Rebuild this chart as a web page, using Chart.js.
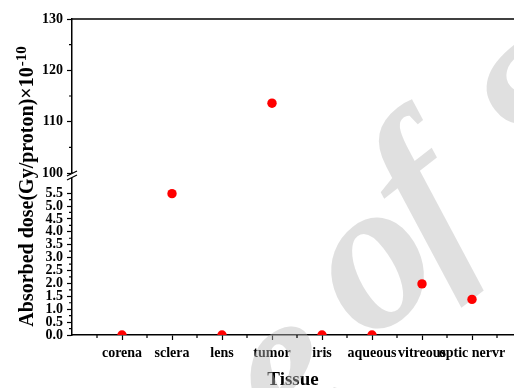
<!DOCTYPE html>
<html>
<head>
<meta charset="utf-8">
<script src="https://cdn.jsdelivr.net/npm/chart.js@4.4.1/dist/chart.umd.min.js"></script>
<style>
    html, body { margin: 0; padding: 0; background: #fff; }
    #wrap { width: 514px; height: 388px; }
</style>
</head>
<body>
<div id="wrap"><canvas id="doseChart"></canvas></div>
<script>
const tissues = ['corena', 'sclera', 'lens', 'tumor', 'iris', 'aqueous', 'vitreous', 'optic nervr'];
const dose = [0, 5.48, 0, 113.6, 0, 0, 1.98, 1.38];
const lowTicks = [0, 0.5, 1, 1.5, 2, 2.5, 3, 3.5, 4, 4.5, 5, 5.5];
const highTicks = [100, 110, 120, 130];
const BREAK = 100;

const serif = '"Liberation Serif", "Times New Roman", serif';
const tickFont = { family: serif, size: 14, weight: 'bold' };

// split the series over the two halves of the broken axis
const lowPoints = dose.map((v, i) => (v < BREAK ? { x: i + 1, y: v } : null)).filter(Boolean);
const highPoints = dose.map((v, i) => (v >= BREAK ? { x: i + 1, y: v } : null)).filter(Boolean);

function midpoints(list) {
    const out = [];
    for (let i = 1; i < list.length; i++) out.push((list[i - 1] + list[i]) / 2);
    return out;
}

const extras = {
    id: 'extras',
    // faint lettering laid over the axes, under the points
    beforeDatasetsDraw(chart) {
        const { ctx } = chart;
        ctx.save();
        ctx.fillStyle = 'rgba(187, 187, 187, 0.45)';
        ctx.font = 'italic bold 215px ' + serif;
        ctx.textAlign = 'center';
        ctx.textBaseline = 'alphabetic';
        [['e', 292, 385, 48], ['o', 380, 273, 48], ['f', 432, 212, 48], ['S', 545, 110, 72]].forEach(([ch, cx, cy, h]) => {
            ctx.save();
            ctx.translate(cx, cy);
            ctx.rotate(-38 * Math.PI / 180);
            ctx.fillText(ch, 0, h);
            ctx.restore();
        });
        ctx.restore();
    },
    afterDraw(chart) {
        const { ctx, chartArea, scales } = chart;
        const xs = scales.x, lo = scales.y, hi = scales.y2;
        const axisX = chartArea.left;
        ctx.save();
        ctx.strokeStyle = '#000';
        ctx.lineWidth = 1.2;

        // minor ticks
        ctx.beginPath();
        midpoints(lowTicks).forEach((v) => {
            const py = lo.getPixelForValue(v);
            ctx.moveTo(axisX, py); ctx.lineTo(axisX - 3, py);
        });
        midpoints(highTicks).forEach((v) => {
            const py = hi.getPixelForValue(v);
            ctx.moveTo(axisX, py); ctx.lineTo(axisX - 3, py);
        });
        for (let v = 0.5; v < xs.max; v += 1) {
            const px = xs.getPixelForValue(v);
            ctx.moveTo(px, chartArea.bottom); ctx.lineTo(px, chartArea.bottom + 3);
        }
        ctx.stroke();

        // top frame line
        ctx.lineWidth = 1.5;
        ctx.beginPath();
        ctx.moveTo(axisX, chartArea.top);
        ctx.lineTo(chartArea.right, chartArea.top);
        ctx.stroke();

        // axis break marks
        const yb = hi.bottom;
        ctx.fillStyle = '#fff';
        ctx.beginPath();
        ctx.moveTo(axisX - 5, yb + 3); ctx.lineTo(axisX + 5, yb - 2);
        ctx.lineTo(axisX + 5, yb + 2); ctx.lineTo(axisX - 5, yb + 7);
        ctx.closePath();
        ctx.fill();
        ctx.lineWidth = 1.2;
        ctx.beginPath();
        ctx.moveTo(axisX - 5, yb + 3); ctx.lineTo(axisX + 5, yb - 2);
        ctx.moveTo(axisX - 5, yb + 7); ctx.lineTo(axisX + 5, yb + 2);
        ctx.stroke();

        // y axis title with superscript exponent
        const main = 'Absorbed dose(Gy/proton)×10';
        const sup = '-10';
        const mainFont = 'bold 20px ' + serif;
        const supFont = 'bold 15px ' + serif;
        ctx.font = mainFont;
        const w1 = ctx.measureText(main).width;
        ctx.font = supFont;
        const w2 = ctx.measureText(sup).width;
        ctx.translate(33, 187);
        ctx.rotate(-Math.PI / 2);
        ctx.fillStyle = '#000';
        ctx.textBaseline = 'alphabetic';
        ctx.textAlign = 'left';
        const start = -(w1 + w2) / 2;
        ctx.font = mainFont;
        ctx.fillText(main, start, 0);
        ctx.font = supFont;
        ctx.fillText(sup, start + w1 + 1, -7);
        ctx.restore();
    }
};

new Chart(document.getElementById('doseChart'), {
    type: 'scatter',
    data: {
        datasets: [
            { data: lowPoints, yAxisID: 'y', clip: 0 },
            { data: highPoints, yAxisID: 'y2', clip: 0 }
        ]
    },
    options: {
        responsive: true,
        maintainAspectRatio: false,
        animation: false,
        layout: { autoPadding: false, padding: { left: 32, right: 0, top: 19, bottom: 0 } },
        plugins: { legend: { display: false }, tooltip: { enabled: false } },
        elements: { point: { radius: 4.7, backgroundColor: '#ff0000', borderWidth: 0 } },
        scales: {
            x: {
                type: 'linear',
                min: 0,
                max: 8.84,
                afterBuildTicks: (s) => { s.ticks = tissues.map((_, i) => ({ value: i + 1 })); },
                afterFit: (s) => { s.height = 53; s.paddingLeft = 0; s.paddingRight = 0; },
                ticks: {
                    autoSkip: false, maxRotation: 0, minRotation: 0, padding: 5,
                    color: '#000', font: { family: serif, size: 14, weight: 'bold' },
                    callback: (v) => tissues[v - 1] || ''
                },
                grid: { drawOnChartArea: false, tickLength: 5, tickColor: '#000', tickWidth: 1.2 },
                border: { color: '#000', width: 1.5 },
                title: {
                    display: true, text: 'Tissue', color: '#000',
                    font: { family: serif, size: 19, weight: 'bold', lineHeight: 1 },
                    padding: { top: 0, bottom: -1.5 }
                }
            },
            y: {
                type: 'linear',
                position: 'left',
                stack: 'dose',
                stackWeight: 162,
                min: 0,
                max: 6.28,
                afterBuildTicks: (s) => { s.ticks = lowTicks.map((v) => ({ value: v })); },
                afterFit: (s) => { s.width = 40; },
                ticks: { autoSkip: false, padding: 4, color: '#000', font: tickFont, callback: (v) => v.toFixed(1) },
                grid: { drawOnChartArea: false, tickLength: 5, tickColor: '#000', tickWidth: 1.2 },
                border: { color: '#000', width: 1.5 }
            },
            y2: {
                type: 'linear',
                position: 'left',
                stack: 'dose',
                stackWeight: 154,
                min: 100,
                max: 130,
                afterBuildTicks: (s) => { s.ticks = highTicks.map((v) => ({ value: v })); },
                afterFit: (s) => { s.width = 40; },
                ticks: { autoSkip: false, padding: 4, color: '#000', font: tickFont, callback: (v) => String(v) },
                grid: { drawOnChartArea: false, tickLength: 5, tickColor: '#000', tickWidth: 1.2 },
                border: { color: '#000', width: 1.5 }
            }
        }
    },
    plugins: [extras]
});
</script>
</body>
</html>
